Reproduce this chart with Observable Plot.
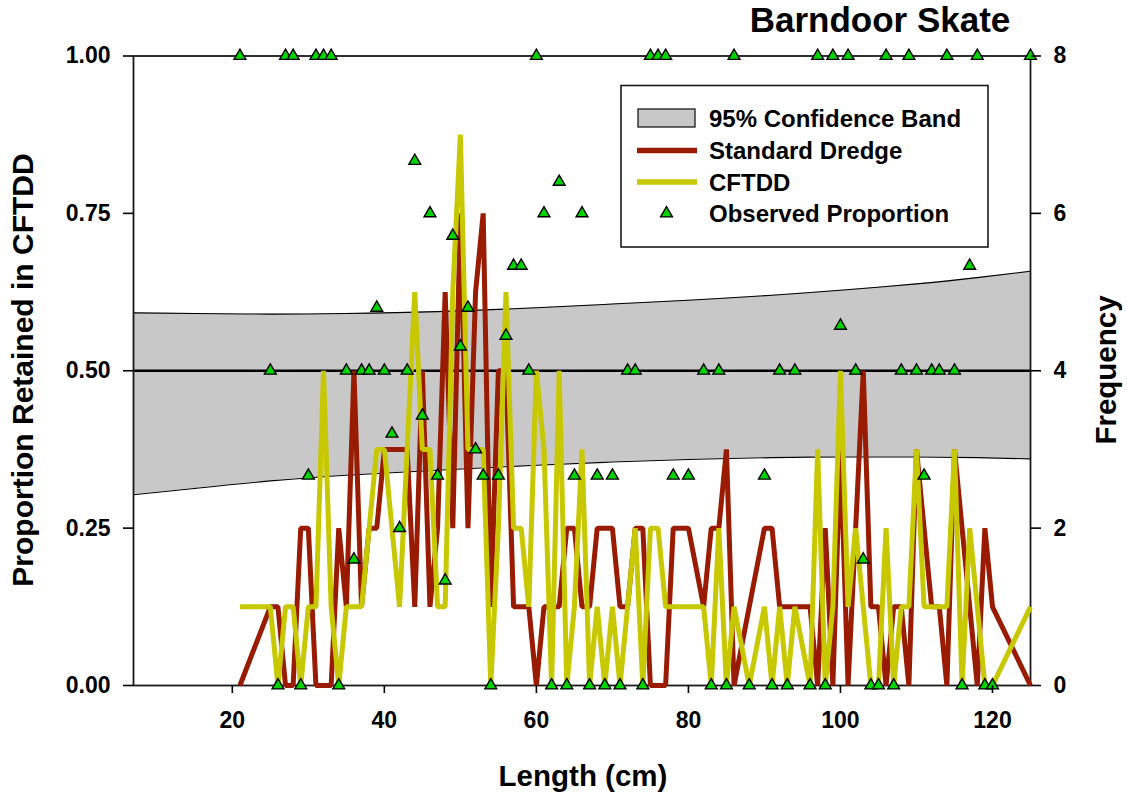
<!DOCTYPE html>
<html>
<head>
<meta charset="utf-8">
<script src="https://cdn.jsdelivr.net/npm/d3@7"></script>
<script src="https://cdn.jsdelivr.net/npm/@observablehq/plot@0.6"></script>
<style>
  body { margin: 0; background: #fff; }
  #chart { width: 1127px; height: 799px; }
  #chart svg text { font-family: "Liberation Sans", Arial, sans-serif; font-weight: bold; }
</style>
</head>
<body>
<div id="chart"></div>
<script>
// Length classes (cm) with at least one skate caught
const lengths = [21,25,26,27,28,29,30,31,32,33,34,35,36,37,38,39,40,41,42,43,44,45,46,47,48,49,50,51,52,53,54,55,56,57,58,59,60,61,62,63,64,65,66,67,68,69,70,71,72,73,74,75,76,77,78,80,82,83,84,85,86,88,90,91,92,93,94,96,97,98,99,100,101,102,103,104,105,106,107,108,109,110,111,112,113,114,115,116,117,118,119,120,125];
// Numbers caught per length class
const dredgeCounts = [0,1,1,0,0,2,2,0,0,0,2,1,4,1,2,2,3,3,3,3,1,4,1,2,5,2,6,2,5,6,1,4,4,1,1,1,0,1,1,1,2,2,1,1,2,2,2,1,1,2,2,0,0,0,2,2,1,2,2,3,0,1,2,2,1,1,1,1,0,2,0,3,0,2,4,1,1,0,1,1,0,3,2,1,1,0,3,2,1,0,2,1,0];
const cftddCounts  = [1,1,0,1,1,0,1,1,4,1,0,1,1,1,2,3,3,2,1,3,5,3,3,1,1,5,7,3,3,3,0,2,5,2,2,1,4,3,0,4,0,1,3,0,1,0,1,0,1,2,0,2,2,1,1,1,1,0,2,0,1,0,1,0,1,0,1,0,3,0,1,4,1,2,1,0,0,2,0,1,1,3,1,1,1,1,3,0,2,1,0,0,1];

// Fitted retention and its 95% confidence band
const fittedProportion = 0.5;
const bandLength = [7, 15, 25, 35, 47, 60, 70, 80, 91, 100, 110, 118, 125];
const bandLower  = [0.303, 0.313, 0.325, 0.334, 0.342, 0.350, 0.355, 0.359, 0.362, 0.363, 0.363, 0.362, 0.360];
const bandUpper  = [0.592, 0.591, 0.590, 0.591, 0.594, 0.600, 0.606, 0.612, 0.620, 0.628, 0.638, 0.648, 0.658];

// Axis ticks
const xTicks = [20, 40, 60, 80, 100, 120];
const proportionTicks = [0, 0.25, 0.5, 0.75, 1];
const frequencyTicks = [0, 2, 4, 6, 8];
const frequencyMax = 8;

const dredgeColor = "#991b02";
const cftddColor = "#c8c800";
const observedColor = "#00d400";
const bandColor = "#c8c8c8";

const rows = lengths.map((length, i) => ({
  length,
  dredge: dredgeCounts[i],
  cftdd: cftddCounts[i],
  proportion: cftddCounts[i] / (cftddCounts[i] + dredgeCounts[i])
}));
const band = bandLength.map((length, i) => ({ length, lower: bandLower[i], upper: bandUpper[i] }));

const svg = Plot.plot({
  width: 1127,
  height: 799,
  marginLeft: 133,
  marginRight: 97,
  marginTop: 55.5,
  marginBottom: 114,
  style: { fontFamily: "Liberation Sans, Arial, sans-serif", fontWeight: "bold", fontSize: "23px", color: "#000", background: "#fff", overflow: "visible" },
  x: { domain: [7, 125], label: null },
  y: { domain: [0, 1], label: null },
  marks: [
    Plot.areaY(band, { x: "length", y1: "lower", y2: "upper", fill: bandColor, curve: "natural" }),
    Plot.line(band, { x: "length", y: "upper", stroke: "#000", strokeWidth: 1.1, curve: "natural" }),
    Plot.line(band, { x: "length", y: "lower", stroke: "#000", strokeWidth: 1.1, curve: "natural" }),
    Plot.ruleY([fittedProportion], { stroke: "#000", strokeWidth: 2.5 }),
    Plot.frame({ stroke: "#1a1a1a", strokeWidth: 1.8 }),
    Plot.line(rows, { x: "length", y: d => d.dredge / frequencyMax, stroke: dredgeColor, strokeWidth: 5, strokeLinejoin: "miter", strokeLinecap: "butt" }),
    Plot.line(rows, { x: "length", y: d => d.cftdd / frequencyMax, stroke: cftddColor, strokeWidth: 5, strokeLinejoin: "miter", strokeLinecap: "butt" }),
    Plot.dot(rows, { x: "length", y: "proportion", symbol: "triangle", r: 4.4, fill: observedColor, stroke: "#000", strokeWidth: 1.4 }),
    Plot.axisX(xTicks, { tickSize: 8, tickPadding: 18, fontSize: 23, label: null, strokeWidth: 1.6 }),
    Plot.axisY(proportionTicks, { anchor: "left", tickSize: 10, tickPadding: 13, fontSize: 23, tickFormat: d3.format(".2f"), label: null, strokeWidth: 1.6 }),
    Plot.axisY(frequencyTicks.map(f => f / frequencyMax), { anchor: "right", tickSize: 10, tickPadding: 13, fontSize: 23, tickFormat: d => String(Math.round(d * frequencyMax)), label: null, strokeWidth: 1.6 })
  ]
});

document.getElementById("chart").append(svg);

const s = d3.select(svg);

// Titles
s.append("text").attr("x", 880).attr("y", 32).attr("text-anchor", "middle")
  .attr("font-size", 35).text("Barndoor Skate");
s.append("text").attr("x", 583).attr("y", 786).attr("text-anchor", "middle")
  .attr("font-size", 29.5).text("Length (cm)");
s.append("text").attr("transform", "translate(33,370) rotate(-90)").attr("text-anchor", "middle")
  .attr("font-size", 30).text("Proportion Retained in CFTDD");
s.append("text").attr("transform", "translate(1116,370) rotate(-90)").attr("text-anchor", "middle")
  .attr("font-size", 29.5).text("Frequency");

// Legend
const lg = s.append("g");
lg.append("rect").attr("x", 621).attr("y", 85.5).attr("width", 367).attr("height", 161.5)
  .attr("fill", "#fff").attr("stroke", "#1a1a1a").attr("stroke-width", 1.6);
const entries = [
  { label: "95% Confidence Band", kind: "band", y: 118 },
  { label: "Standard Dredge", kind: "line", color: dredgeColor, y: 150.5 },
  { label: "CFTDD", kind: "line", color: cftddColor, y: 182 },
  { label: "Observed Proportion", kind: "dot", y: 213.5 }
];
for (const e of entries) {
  if (e.kind === "band") {
    lg.append("rect").attr("x", 638).attr("y", e.y - 9).attr("width", 57).attr("height", 18)
      .attr("fill", bandColor).attr("stroke", "#1a1a1a").attr("stroke-width", 1.3);
  } else if (e.kind === "line") {
    lg.append("line").attr("x1", 637).attr("x2", 697).attr("y1", e.y).attr("y2", e.y)
      .attr("stroke", e.color).attr("stroke-width", 5.5);
  } else {
    lg.append("path").attr("transform", `translate(666.5,${e.y})`)
      .attr("d", d3.symbol(d3.symbolTriangle, Math.PI * 4.4 * 4.4)())
      .attr("fill", observedColor).attr("stroke", "#000").attr("stroke-width", 1.4);
  }
  lg.append("text").attr("x", 709).attr("y", e.y + 8.6).attr("text-anchor", "start")
    .attr("font-size", 24).text(e.label);
}
</script>
</body>
</html>
